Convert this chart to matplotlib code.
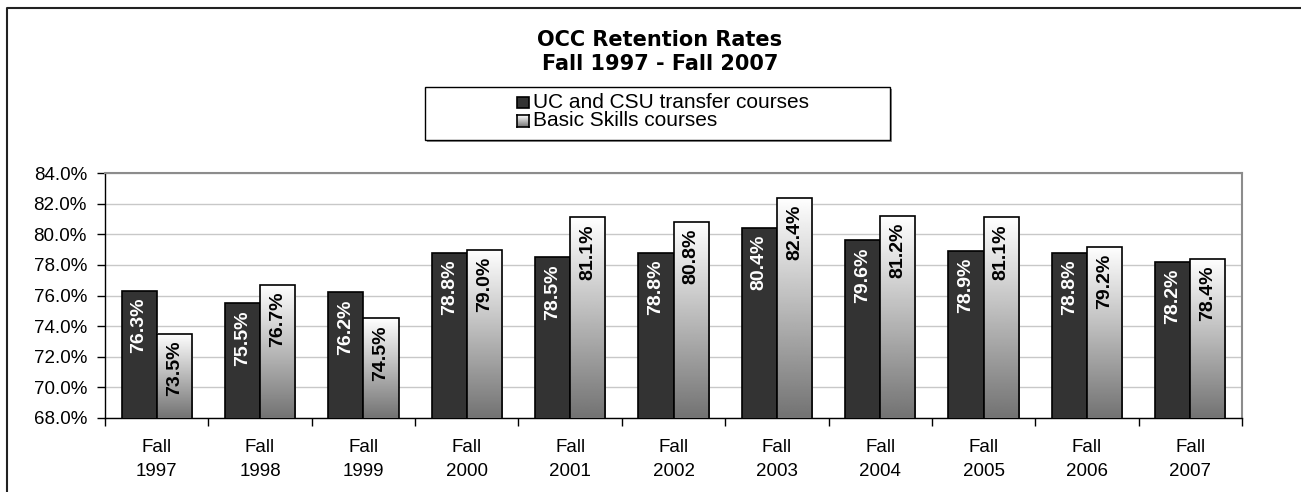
import numpy as np
import matplotlib.pyplot as plt
from matplotlib.patches import Rectangle
from matplotlib.lines import Line2D
from matplotlib.ticker import FuncFormatter, FixedLocator

#%%
years = ["1997", "1998", "1999", "2000", "2001", "2002", "2003", "2004", "2005", "2006", "2007"]
series_names = ["UC and CSU transfer courses", "Basic Skills courses"]
transfer = [76.3, 75.5, 76.2, 78.8, 78.5, 78.8, 80.4, 79.6, 78.9, 78.8, 78.2]
basic = [73.5, 76.7, 74.5, 79.0, 81.1, 80.8, 82.4, 81.2, 81.1, 79.2, 78.4]
title1 = "OCC Retention Rates"
title2 = "Fall 1997 - Fall 2007"

#%%
plt.rcParams['font.family'] = ['Liberation Sans', 'DejaVu Sans']
W, H = 1301, 492
fig = plt.figure(figsize=(W / 100, H / 100), dpi=100)

def fx(x):
    return x / W

def fy(y):
    return 1 - y / H

ax = fig.add_axes([fx(105), fy(418), fx(1242) - fx(105), fy(173) - fy(418)])

x = np.arange(len(years))
bw = 0.34
ymin, ymax = 68, 84
grad = np.linspace(1, 0.45, 256).reshape(-1, 1)

ax.bar(x - bw / 2, transfer, bw, color="#333333", edgecolor="black", linewidth=1.2, zorder=3)
light = ax.bar(x + bw / 2, basic, bw, color="none", edgecolor="black", linewidth=1.2, zorder=4)
for b in light:
    x0, w, top = b.get_x(), b.get_width(), b.get_height()
    ax.imshow(grad, extent=[x0, x0 + w, ymin, top], aspect="auto", cmap="gray",
              vmin=0, vmax=1, zorder=3, interpolation="bilinear")

ax.set_xlim(-0.5, len(years) - 0.5)
ax.set_ylim(ymin, ymax)

# value labels inside the bars
for xi, v in zip(x, transfer):
    ax.annotate(f"{v:.1f}%", (xi - bw / 2, v), xytext=(0, -5), textcoords="offset points",
                rotation=90, ha="center", va="top", fontsize=14, fontweight="bold",
                color="white", zorder=5)
for xi, v in zip(x, basic):
    ax.annotate(f"{v:.1f}%", (xi + bw / 2, v), xytext=(0, -5), textcoords="offset points",
                rotation=90, ha="center", va="top", fontsize=14, fontweight="bold",
                color="black", zorder=5)

#%% axes styling
ax.set_yticks(np.arange(ymin, ymax + 0.1, 2))
ax.yaxis.set_major_formatter(FuncFormatter(lambda v, p: f"{v:.1f}%"))
ax.tick_params(axis="y", length=6, width=1, pad=7, labelsize=13.5, direction="out")
ax.set_xticks(x)
ax.set_xticklabels([f"Fall\n{y}" for y in years], linespacing=1.55)
ax.tick_params(axis="x", which="major", length=0, pad=15, labelsize=13.5)
ax.xaxis.set_minor_locator(FixedLocator(np.arange(-0.5, len(years), 1)))
ax.tick_params(axis="x", which="minor", length=6, width=1, direction="out")
ax.grid(axis="y", color="#c8c8c8", linewidth=1, zorder=0)
ax.set_axisbelow(True)
for s in ["top", "right"]:
    ax.spines[s].set_color("#8c8c8c")
    ax.spines[s].set_linewidth(1.5)
for s in ["left", "bottom"]:
    ax.spines[s].set_color("black")
    ax.spines[s].set_linewidth(1)

#%% titles
fig.text(fx(660), fy(46), title1, ha="center", va="baseline", fontsize=15,
         fontweight="bold", family="DejaVu Sans")
fig.text(fx(660), fy(70), title2, ha="center", va="baseline", fontsize=15,
         fontweight="bold", family="DejaVu Sans")

#%% legend box
fig.patches.append(Rectangle((fx(427), fy(142)), fx(465), fy(0) - fy(53),
                             transform=fig.transFigure, facecolor="#909090", edgecolor="none"))
fig.patches.append(Rectangle((fx(425), fy(140)), fx(465), fy(0) - fy(53),
                             transform=fig.transFigure, facecolor="white", edgecolor="black",
                             linewidth=1))
fig.patches.append(Rectangle((fx(517), fy(108)), fx(12), fy(0) - fy(11),
                             transform=fig.transFigure, facecolor="#333333", edgecolor="black",
                             linewidth=1.2))
lax = fig.add_axes([fx(517), fy(127), fx(12), fy(0) - fy(12)])
lax.imshow(grad, aspect="auto", cmap="gray", vmin=0, vmax=1, interpolation="bilinear")
lax.set_xticks([])
lax.set_yticks([])
lax.set_zorder(5)
for s in lax.spines.values():
    s.set_linewidth(1.2)
fig.text(fx(533), fy(102.5), series_names[0], ha="left", va="center", fontsize=15)
fig.text(fx(533), fy(121), series_names[1], ha="left", va="center", fontsize=15)

#%% outer frame
fig.lines.append(Line2D([fx(7), fx(7), fx(1301)], [fy(492), fy(8), fy(8)],
                        transform=fig.transFigure, color="#222222", linewidth=1.5))

fig.savefig("out.png", dpi=100)
